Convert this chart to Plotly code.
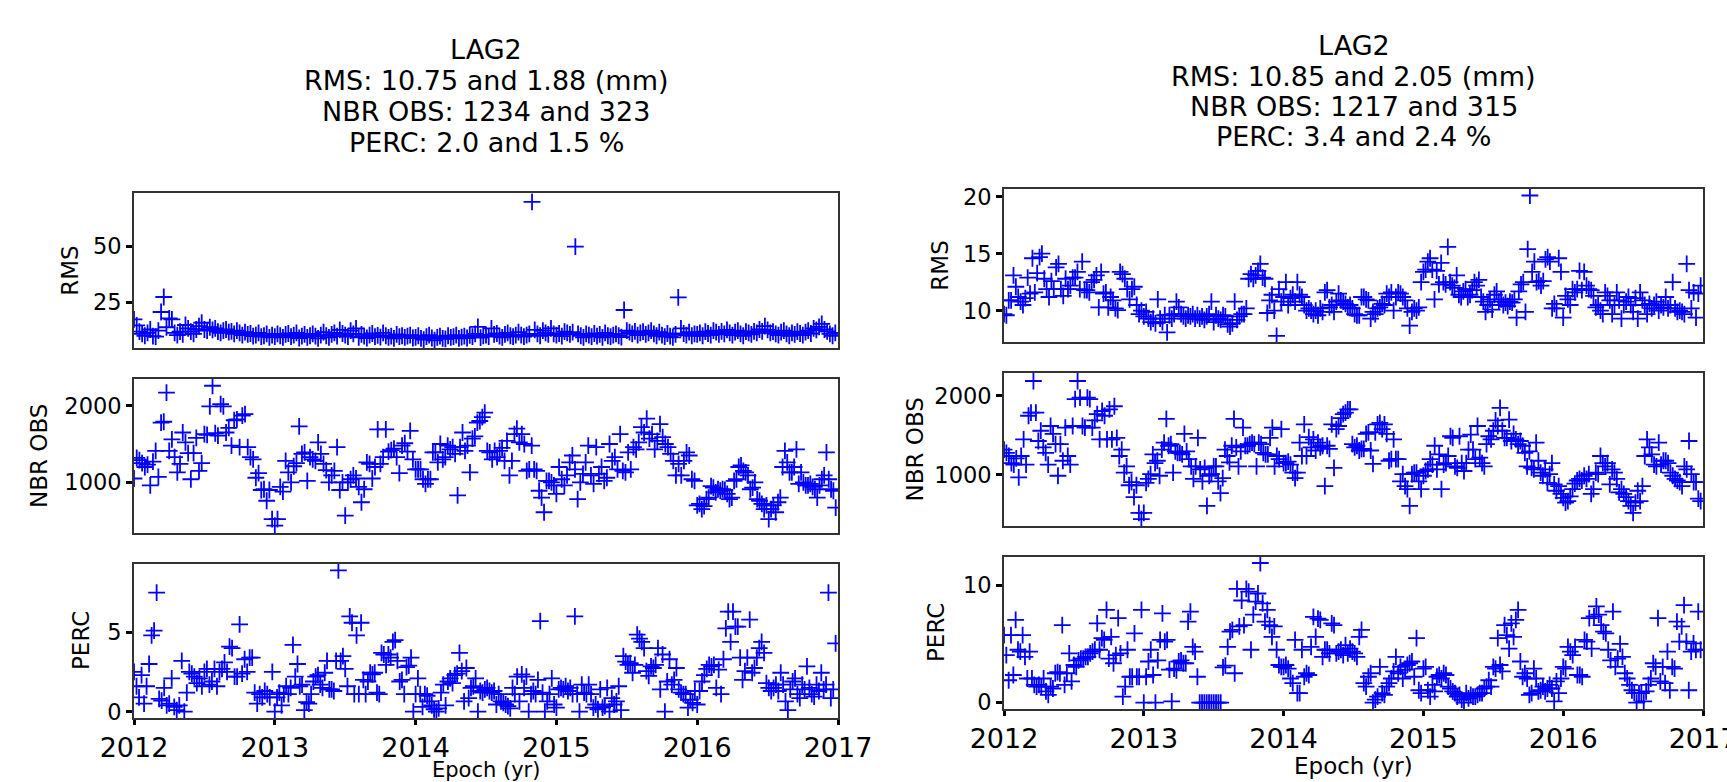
import plotly.graph_objects as go

W, H = 1727, 782
YEARS = [2012, 2013, 2014, 2015, 2016]

# ---------------- data (per panel, one row per year) ----------------
rms_left = [
    [17.5, 14.8, 12.0, 11.0, 10.2, 11.5, 13.0, 10.0, 9.8, 12.5, 20.8, 27.5, 14.0, 18.0, 17.5, 11.5, 10.5, 12.0, 10.8, 15.0, 13.5, 12.0, 11.0, 13.0, 14.5, 16.0, 13.0, 12.5, 14.0, 12.8, 13.5, 12.0, 11.5, 12.5, 13.0, 11.8, 12.2, 11.0, 12.5, 11.5, 10.5, 11.8, 10.8, 11.2, 10.0, 10.5, 11.5, 9.8, 10.2, 11.0, 9.5, 10.5],
    [9.8, 11.0, 10.2, 9.5, 10.8, 11.2, 9.8, 10.5, 11.5, 9.2, 10.0, 10.8, 9.5, 10.2, 11.0, 10.0, 9.0, 10.5, 11.8, 10.2, 9.5, 10.8, 11.5, 10.0, 12.8, 11.2, 10.5, 9.8, 12.5, 11.0, 13.5, 9.5, 10.8, 10.0, 9.2, 10.5, 11.2, 9.8, 10.4, 9.6, 11.5, 10.2, 9.5, 10.0, 9.0, 10.8, 9.8, 10.2, 9.5, 10.0, 10.5, 9.2],
    [9.5, 10.2, 9.0, 8.5, 9.8, 10.5, 9.2, 8.2, 9.5, 10.0, 9.0, 8.8, 10.2, 9.5, 9.8, 10.5, 9.0, 9.6, 10.0, 9.2, 10.4, 9.8, 11.0, 14.2, 9.4, 10.2, 10.5, 9.8, 13.5, 10.8, 11.2, 10.0, 9.5, 10.8, 11.5, 10.2, 9.8, 10.5, 11.8, 10.5, 9.8, 10.5, 11.0, 70.0, 12.8, 11.0, 10.2, 12.5, 11.5, 10.8, 13.5, 11.0],
    [10.5, 11.2, 10.0, 12.0, 11.5, 10.8, 11.8, 50.0, 11.0, 10.2, 9.5, 11.0, 10.5, 9.8, 11.2, 10.0, 10.8, 9.5, 11.5, 10.2, 9.8, 10.5, 11.0, 10.2, 9.6, 21.7, 12.5, 11.8, 11.0, 12.2, 10.5, 11.5, 12.0, 10.8, 11.5, 12.5, 11.0, 10.2, 11.8, 10.5, 9.8, 11.2, 10.0, 9.5, 10.8, 27.3, 13.5, 11.2, 10.5, 11.8, 10.2, 11.0],
    [10.8, 11.5, 10.2, 12.0, 11.2, 10.5, 12.5, 11.8, 10.8, 12.2, 11.0, 12.8, 11.5, 10.5, 11.8, 12.5, 11.0, 10.2, 12.0, 11.5, 10.8, 12.2, 11.5, 13.0, 12.2, 14.5, 12.8, 11.5, 12.0, 11.0, 10.5, 11.8, 12.5, 11.0, 10.2, 11.5, 10.8, 12.0, 11.2, 10.5, 11.8, 12.5, 11.2, 13.5, 12.8, 14.2, 15.5, 13.0, 12.2, 11.0, 10.2, 11.5],
]

nbr_left = [
    [1050, 1320, 1290, 1250, 1200, 1230, 960, 1270, 1410, 1070, 1780, 1790, 2170, 1410, 1560, 1330, 1130, 1240, 1650, 1520, 1380, 1040, 1380, 1580, 1150, 1250, 1630, 1620, 1990, 2260, 1640, 1610, 2020, 1990, 1650, 1710, 1480, 1810, 1820, 1460, 1870, 1890, 1460, 1330, 1300, 1060, 1120, 900, 910, 760, 900, 520],
    [435, 520, 940, 880, 1280, 1130, 1000, 1210, 1250, 1730, 1370, 1390, 1020, 1330, 1300, 1280, 1520, 1370, 1240, 1160, 1000, 1090, 1150, 1460, 900, 1000, 565, 1000, 1040, 1090, 1050, 940, 740, 910, 1260, 1240, 1050, 1200, 1690, 1240, 1330, 1690, 1400, 1420, 1440, 1330, 1120, 1480, 1510, 1400, 1670, 1300],
    [1170, 1170, 1170, 1040, 980, 1040, 1040, 1390, 1390, 1260, 1500, 1300, 1330, 1480, 1430, 1460, 1370, 830, 1460, 1650, 1410, 1480, 1130, 1570, 1600, 1780, 1800, 1850, 1910, 1410, 1390, 1300, 1410, 1330, 1410, 1450, 1280, 1540, 1090, 1280, 1630, 1700, 1520, 1630, 1500, 1150, 1170, 1480, 1170, 1150, 890, 800, 610, 1020, 1020, 1000, 960],
    [850, 1200, 1040, 960, 1090, 1260, 1350, 1170, 780, 1000, 1110, 1260, 1480, 1090, 980, 1460, 1110, 1200, 1020, 1060, 1500, 1280, 1330, 1170, 1630, 1150, 1130, 1390, 1170, 1460, 1430, 1520, 1720, 1650, 1830, 1570, 1630, 1430, 1540, 1760, 1590, 1500, 1460, 1370, 1280, 1090, 1240, 1090, 1280, 1390, 1350, 1040, 1020],
    [700, 720, 650, 690, 780, 800, 950, 930, 870, 910, 890, 910, 900, 850, 780, 800, 1020, 1040, 1200, 1220, 1150, 1130, 1090, 910, 930, 1000, 780, 760, 720, 650, 700, 520, 650, 700, 610, 740, 800, 1200, 1410, 1260, 1130, 1130, 1200, 1430, 980, 1130, 1000, 960, 960, 980, 940, 910, 800, 960, 1040, 1090, 1390, 1040, 910, 890, 670],
]

perc_left = [
    [2.5, 1.6, 0.9, 2.3, 0.5, 1.6, 3.0, 4.8, 5.1, 7.5, 0.8, 0.7, 1.5, 0.4, 0.5, 2.1, 0.3, 0.1, 0.4, 3.2, 0.0, 1.2, 2.5, 2.4, 2.2, 1.8, 2.1, 1.6, 2.5, 2.7, 1.7, 1.9, 2.7, 1.6, 2.5, 2.7, 3.1, 2.5, 4.1, 4.0, 2.2, 2.2, 5.5, 2.4, 3.3, 2.5, 3.4, 3.4, 1.2, 0.5, 1.1, 0.9, 1.3, 1.1, 0.9, 2.5],
    [0.0, 0.9, 1.2, 0.4, 1.1, 1.6, 1.1, 1.5, 4.2, 2.2, 3.0, 1.6, 1.7, 0.1, 0.6, 0.5, 1.1, 1.9, 2.2, 2.3, 1.7, 1.5, 2.45, 3.2, 1.4, 1.4, 1.3, 3.2, 8.9, 3.2, 3.5, 2.7, 1.6, 6.0, 5.6, 1.1, 4.8, 1.1, 5.6, 2.0, 1.1, 1.9, 2.45, 2.35, 2.45, 1.2, 1.1, 3.7, 3.6, 2.95, 3.6, 3.4, 4.4, 4.5, 3.2, 1.9, 2.0, 1.1, 2.8, 2.9, 3.4, 0.0],
    [1.1, 2.1, 1.1, 0.3, 1.1, 1.0, 0.65, 0.4, 0.15, 0.0, 0.2, 1.2, 1.7, 0.4, 1.9, 2.1, 1.8, 2.3, 2.4, 3.7, 2.55, 0.65, 2.75, 0.85, 1.5, 1.6, 2.1, 0.0, 1.3, 1.2, 1.4, 1.5, 1.3, 1.2, 1.3, 0.45, 1.1, 0.65, 0.55, 0.45, 0.35, 0.2, 1.5, 1.1, 2.2, 0.65, 2.35, 1.5, 2.2, 0.0, 1.1, 1.3, 1.1, 2.0, 5.7, 1.2, 0.0, 0.65, 1.1, 2.1, 0.45],
    [0.25, 1.4, 1.5, 1.4, 1.6, 1.3, 1.5, 1.1, 6.0, 1.1, 0.0, 1.7, 1.2, 1.1, 1.7, 1.1, 0.25, 0.45, 0.15, 1.4, 0.25, 0.35, 1.5, 0.0, 0.85, 0.45, 0.65, 1.6, 0.1, 3.5, 3.15, 2.95, 3.05, 2.45, 2.95, 4.85, 4.6, 4.4, 4.0, 2.55, 2.25, 2.85, 2.75, 2.95, 4.0, 1.4, 3.6, 0.0, 1.9, 3.3, 1.7, 2.0, 2.75, 1.4, 1.2, 1.1, 1.1, 0.25, 0.75, 0.55, 1.3],
    [0.45, 1.3, 1.9, 2.3, 2.7, 2.95, 2.85, 2.95, 1.5, 2.65, 1.1, 3.3, 5.25, 6.3, 4.4, 6.3, 5.35, 5.35, 3.4, 2.0, 2.55, 3.4, 5.8, 2.45, 2.75, 3.4, 4.0, 4.4, 3.7, 1.8, 1.5, 1.3, 1.5, 1.7, 1.3, 2.45, 1.7, 0.65, 0.1, 1.4, 1.9, 2.1, 1.1, 0.85, 1.7, 1.4, 2.85, 1.5, 1.1, 0.95, 1.7, 1.3, 2.45, 1.4, 1.7, 7.5, 0.85, 1.4, 4.3],
]

rms_right = [
    [9.7, 9.6, 10.9, 10.9, 13.1, 12.1, 11.2, 10.8, 10.5, 11.1, 12.9, 11.5, 14.6, 11.6, 13.3, 14.7, 15.0, 12.8, 11.9, 11.2, 12.6, 11.9, 13.8, 14.1, 11.9, 11.3, 12.8, 11.9, 12.2, 12.9, 12.9, 13.4, 11.9, 14.3, 11.8, 11.8, 11.6, 12.5, 12.7, 13.1, 10.3, 13.4, 11.5, 11.6, 10.3, 11.2, 10.9, 10.2, 10.05, 13.4, 13.2, 12.8, 11.9, 11.0, 11.9, 12.1, 10.5, 9.7, 10.0],
    [9.5, 9.9, 9.3, 9.0, 9.3, 8.9, 11.0, 9.3, 9.0, 9.6, 8.1, 9.6, 9.3, 9.7, 10.8, 10.3, 9.7, 9.5, 9.3, 9.6, 9.5, 9.7, 9.3, 9.6, 9.3, 9.5, 9.2, 9.5, 9.7, 10.8, 9.0, 9.6, 9.3, 9.2, 9.6, 9.5, 8.8, 8.6, 8.9, 10.8, 9.2, 9.5, 9.7, 9.7, 10.2, 12.8, 13.2, 12.8, 13.1, 13.5, 14.1, 12.9, 12.8, 9.8, 10.9, 11.4, 10.0, 7.8, 11.9, 10.8],
    [11.2, 12.5, 10.5, 11.1, 11.4, 10.8, 12.5, 11.4, 11.2, 10.5, 10.0, 10.2, 10.0, 9.7, 10.0, 9.6, 10.2, 9.9, 11.6, 11.8, 10.3, 10.5, 9.9, 10.8, 11.5, 10.9, 10.8, 10.6, 10.3, 10.5, 10.2, 9.7, 9.6, 9.6, 11.2, 11.2, 11.0, 10.9, 9.3, 9.9, 9.7, 10.2, 10.3, 10.6, 10.5, 11.5, 11.2, 11.6, 10.0, 11.2, 11.6, 11.5, 11.2, 10.9, 10.2, 8.7, 9.9, 10.2, 10.0, 10.3, 12.5],
    [13.4, 13.6, 14.3, 14.6, 13.6, 11.0, 13.5, 12.3, 14.2, 12.5, 12.3, 15.6, 12.5, 12.2, 12.0, 13.1, 11.4, 11.2, 11.7, 11.9, 11.2, 11.4, 11.8, 12.5, 12.2, 12.7, 11.2, 10.8, 9.9, 10.5, 11.0, 10.1, 11.4, 11.7, 10.8, 11.0, 10.5, 10.7, 10.4, 10.8, 10.7, 11.0, 9.4, 11.7, 12.3, 12.5, 9.9, 15.4, 20.1, 13.4, 14.3, 12.5, 12.6, 12.2, 12.6, 14.5, 14.7, 14.3, 10.2, 10.6, 10.2, 14.6, 13.4],
    [9.4, 11.3, 11.0, 10.5, 11.9, 11.6, 11.9, 13.5, 11.8, 13.4, 12.2, 11.9, 11.8, 11.3, 10.3, 10.5, 10.0, 9.7, 11.6, 11.3, 10.9, 9.7, 10.5, 11.6, 10.9, 9.3, 10.5, 10.8, 11.2, 10.5, 9.9, 11.1, 9.3, 11.6, 10.9, 10.5, 9.7, 10.6, 10.2, 10.5, 10.8, 10.0, 10.5, 10.3, 11.2, 10.2, 10.5, 12.5, 10.2, 9.9, 10.0, 9.9, 9.7, 14.1, 11.8, 10.2, 11.6, 9.4, 11.5, 12.2],
]

nbr_right = [
    [1320, 1280, 1240, 1150, 1130, 1210, 970, 1240, 1450, 1130, 1750, 1790, 2190, 1790, 1430, 1560, 1350, 1280, 1130, 1620, 1520, 1390, 990, 1390, 1180, 1600, 1240, 1130, 1620, 1960, 2190, 1980, 1620, 1600, 1980, 1960, 1600, 1690, 1770, 1450, 1810, 1750, 1450, 1830, 1450, 1870, 1470, 1240, 1320, 1030, 1110, 870, 910, 720, 870, 520, 440],
    [520, 900, 950, 1010, 1260, 1150, 1180, 990, 1320, 1410, 1710, 1370, 1390, 1030, 1300, 1280, 1280, 1260, 1520, 1300, 1200, 1110, 950, 1110, 1470, 1070, 920, 1090, 610, 990, 1010, 1110, 1110, 920, 770, 960, 1320, 1240, 1160, 1370, 1710, 1350, 1110, 1300, 1600, 1370, 1370, 1390, 1410, 1390, 1110, 1410, 1390, 1280, 1260, 1260, 1470, 1600, 1110, 1240, 1200, 1580],
    [1150, 1150, 1170, 1130, 1030, 960, 1030, 1410, 1240, 1640, 1240, 1480, 1350, 1450, 1310, 1410, 1350, 1370, 860, 1370, 1330, 1640, 1090, 1580, 1620, 1720, 1770, 1790, 1830, 1830, 1390, 1350, 1370, 1310, 1330, 1330, 1520, 1540, 1310, 1140, 1540, 1640, 1660, 1580, 1640, 1520, 1180, 1200, 1450, 1200, 1200, 920, 1010, 860, 820, 610, 1010, 1030, 1030, 920, 820],
    [990, 1050, 1070, 1200, 1130, 1370, 1070, 1260, 820, 1130, 1150, 1240, 1490, 1470, 1110, 1090, 1490, 1150, 1050, 1150, 1320, 1510, 1320, 1200, 1620, 1220, 1150, 1110, 1390, 1490, 1450, 1560, 1690, 1620, 1850, 1560, 1470, 1470, 1700, 1430, 1520, 1450, 1390, 1430, 1370, 1280, 1110, 1300, 1090, 1070, 1410, 1180, 1030, 990, 1070, 900, 1010, 1150, 880, 800, 860, 760],
    [710, 650, 670, 730, 820, 890, 930, 950, 930, 990, 950, 1010, 760, 820, 1030, 1010, 1240, 1150, 1110, 1150, 880, 1070, 1030, 950, 780, 820, 760, 720, 670, 610, 520, 650, 800, 670, 860, 1240, 1450, 1350, 1260, 1130, 1110, 1410, 1130, 1180, 1180, 1150, 1030, 990, 950, 930, 910, 860, 1110, 1070, 1430, 1010, 910, 910, 700, 670],
]

perc_right = [
    [5.75, 4.05, 1.9, 5.75, 2.35, 7.05, 4.5, 4.35, 5.75, 3.9, 2.05, 4.35, 2.05, 1.5, 1.35, 1.5, 1.35, 2.05, 0.95, 0.65, 1.35, 1.2, 2.5, 2.6, 2.5, 6.6, 1.5, 2.5, 4.2, 1.8, 3.2, 3.05, 3.6, 3.75, 3.75, 3.9, 3.9, 4.2, 4.35, 4.5, 6.75, 4.5, 5.5, 5.35, 7.9, 3.75, 5.6, 3.35, 4.05, 7.2, 4.2, 0.5, 1.35, 4.5, 2.2, 2.2, 5.9, 2.2, 2.2, 7.9],
    [0.0, 2.2, 3.5, 4.5, 2.35, 0.0, 3.6, 5.35, 7.6, 5.2, 5.35, 2.8, 0.1, 2.9, 2.75, 3.5, 3.6, 3.35, 3.35, 6.9, 7.75, 4.75, 4.35, 2.2, 0.0, 0.0, 0.0, 0.0, 0.0, 0.0, 0.0, 0.0, 0.0, 0.0, 3.0, 3.15, 4.75, 6.05, 6.2, 2.5, 9.7, 6.5, 8.7, 6.6, 9.7, 9.45, 4.5, 7.5, 8.6, 9.3, 11.9, 8.45, 6.9, 7.9, 6.6, 5.6, 6.5, 4.5, 3.2, 3.05],
    [3.05, 3.2, 2.9, 2.05, 1.65, 5.35, 0.8, 0.8, 4.5, 2.2, 2.5, 2.35, 4.75, 7.3, 5.6, 7.15, 7.05, 3.9, 4.5, 4.5, 4.2, 6.75, 6.6, 4.2, 4.35, 4.5, 4.05, 4.9, 4.2, 4.6, 4.35, 4.2, 3.9, 5.6, 6.2, 1.65, 1.35, 2.2, 2.5, 0.0, 0.25, 0.5, 3.05, 0.8, 0.65, 1.35, 1.65, 2.05, 2.65, 3.9, 2.5, 3.05, 2.05, 2.8, 3.2, 3.35, 3.5, 2.2, 5.5, 1.05, 0.8],
    [2.9, 3.05, 1.05, 0.5, 1.5, 0.95, 2.2, 2.35, 2.05, 2.5, 2.35, 1.35, 1.2, 0.95, 0.8, 0.5, 0.65, 0.25, 0.0, 0.8, 0.35, 0.65, 0.5, 0.5, 0.65, 0.8, 0.8, 1.2, 1.35, 1.9, 1.35, 3.05, 2.9, 5.5, 3.2, 2.65, 6.6, 5.75, 4.6, 6.75, 5.6, 7.05, 7.9, 3.5, 2.2, 2.5, 2.05, 0.65, 0.8, 2.9, 2.05, 0.95, 1.05, 1.35, 0.95, 1.2, 1.5, 1.2, 0.1, 1.8, 0.8, 2.05],
    [3.05, 2.9, 4.75, 4.35, 4.05, 4.75, 2.35, 2.35, 2.2, 5.35, 5.2, 7.2, 4.6, 7.35, 8.2, 7.5, 6.6, 6.05, 5.9, 4.5, 3.6, 7.75, 3.05, 3.75, 5.0, 3.9, 2.5, 2.05, 1.5, 1.05, 0.8, 0.0, 0.8, 0.8, 0.1, 0.95, 1.5, 2.05, 3.35, 3.05, 7.2, 1.8, 3.05, 1.65, 4.35, 1.05, 3.05, 2.9, 6.9, 5.2, 6.5, 8.3, 5.2, 1.05, 4.35, 5.05, 4.5, 7.75, 4.5],
]

titles_left = ["LAG2", "RMS: 10.75 and 1.88 (mm)", "NBR OBS: 1234 and 323", "PERC: 2.0 and 1.5 %"]
titles_right = ["LAG2", "RMS: 10.85 and 2.05 (mm)", "NBR OBS: 1217 and 315", "PERC: 3.4 and 2.4 %"]
ylabels = ["RMS", "NBR OBS", "PERC"]
x_ticks = [2012, 2013, 2014, 2015, 2016, 2017]
xlabel = "Epoch (yr)"

# ---------------- layout geometry (pixels) ----------------
FONT = "DejaVu Sans"
BLUE = "#0000ff"

def px_x(p):
    return p / W

def px_y(p):
    return 1 - p / H

col_x = {"L": (134, 838), "R": (1004, 1703)}
panel_y = {
    "L": [(193.3, 348.3), (379, 533), (564, 718)],
    "R": [(189, 342.3), (373, 526), (557, 709)],
}
yranges = {
    "L": [[4.6, 73.8], [339, 2348], [-0.40, 9.30]],
    "R": [[7.23, 20.67], [354, 2291], [-0.55, 12.41]],
}
ydticks = {"L": [25, 1000, 5], "R": [5, 1000, 10]}
ylabel_x = {"L": [70, 39, 81], "R": [940, 914, 936]}
series = {"L": [rms_left, nbr_left, perc_left], "R": [rms_right, nbr_right, perc_right]}

fig = go.Figure()
layout = dict(
    width=W, height=H, autosize=False,
    margin=dict(l=0, r=0, t=0, b=0, pad=0, autoexpand=False),
    paper_bgcolor="white", plot_bgcolor="white",
    showlegend=False,
    font=dict(family=FONT, color="black"),
)
annotations = []

idx = 0
for col in ["L", "R"]:
    x0, x1 = col_x[col]
    for r in range(3):
        idx += 1
        xa = "xaxis" if idx == 1 else f"xaxis{idx}"
        ya = "yaxis" if idx == 1 else f"yaxis{idx}"
        xref = "x" if idx == 1 else f"x{idx}"
        yref = "y" if idx == 1 else f"y{idx}"
        xs, ys = [], []
        for k, yr_vals in enumerate(series[col][r]):
            n = len(yr_vals)
            for j, v in enumerate(yr_vals):
                xs.append(YEARS[k] + j / n)
                ys.append(v)
        fig.add_trace(go.Scatter(
            x=xs, y=ys, mode="markers", xaxis=xref, yaxis=yref,
            marker=dict(symbol="cross-thin", size=12, color=BLUE,
                        line=dict(width=1.8, color=BLUE)),
            cliponaxis=True,
        ))
        top, bot = panel_y[col][r]
        bottom_panel = (r == 2)
        layout[xa] = dict(
            domain=[px_x(x0), px_x(x1)], anchor=yref, range=[2012, 2017],
            automargin=False, ticklabeloverflow="allow",
            showline=True, mirror=True, linecolor="#333333", linewidth=1.8,
            showgrid=False, zeroline=False,
            tickmode="array", tickvals=x_ticks,
            ticktext=[str(t) for t in x_ticks],
            ticks="outside" if bottom_panel else "",
            showticklabels=bottom_panel,
            ticklen=5, tickwidth=2.5, tickcolor="black",
            tickfont=dict(family=FONT, size=27, color="black"),
        )
        layout[ya] = dict(
            domain=[px_y(bot), px_y(top)], anchor=xref, range=yranges[col][r],
            automargin=False,
            showline=True, mirror=True, linecolor="#333333", linewidth=1.8,
            showgrid=False, zeroline=False,
            dtick=ydticks[col][r], tick0=0,
            ticks="outside", ticklen=6, tickwidth=2.5, tickcolor="black",
            tickfont=dict(family=FONT, size=22.5, color="black"),
            tickformat="d",
        )
        annotations.append(dict(
            text=ylabels[r], x=px_x(ylabel_x[col][r]), y=px_y((top + bot) / 2),
            xref="paper", yref="paper", xanchor="center", yanchor="middle",
            textangle=-90, showarrow=False,
            font=dict(family=FONT, size=23, color="black"),
        ))

# column titles
title_y = {"L": [49.5, 80.5, 111.5, 142], "R": [45, 76, 106.5, 137]}
for col, lines in [("L", titles_left), ("R", titles_right)]:
    cx = (col_x[col][0] + col_x[col][1]) / 2
    for t, yy in zip(lines, title_y[col]):
        annotations.append(dict(
            text=t, x=px_x(cx), y=px_y(yy), xref="paper", yref="paper",
            xanchor="center", yanchor="middle", showarrow=False,
            font=dict(family=FONT, size=27, color="black"),
        ))

# x-axis labels (bottom row)
for col, yy, fs in [("L", 770, 21), ("R", 766, 23)]:
    cx = (col_x[col][0] + col_x[col][1]) / 2
    annotations.append(dict(
        text=xlabel, x=px_x(cx), y=px_y(yy), xref="paper", yref="paper",
        xanchor="center", yanchor="middle", showarrow=False,
        font=dict(family=FONT, size=fs, color="black"),
    ))

layout["annotations"] = annotations
fig.update_layout(**layout)
fig.write_html("out.html", config={"displayModeBar": False})
